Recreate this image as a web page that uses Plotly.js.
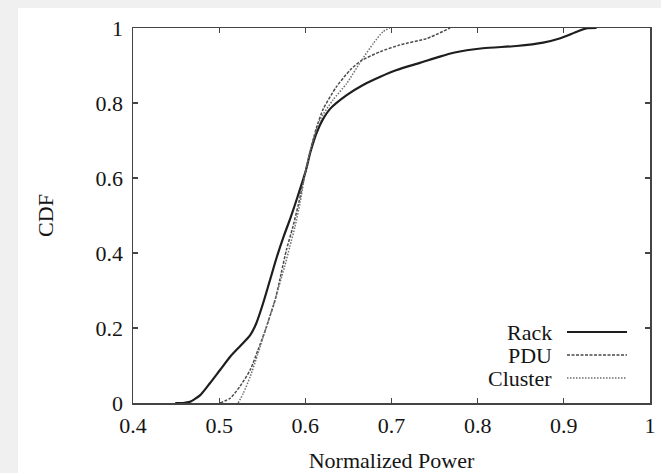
<!DOCTYPE html>
<html>
<head>
<meta charset="utf-8">
<script src="https://cdn.plot.ly/plotly-3.0.1.min.js"></script>
<style>
  html, body { margin: 0; padding: 0; background: #f0f0f0; width: 661px; height: 473px; overflow: hidden; }
  #chart { position: absolute; left: 18px; top: 8px; width: 643px; height: 465px; background: #ffffff; }
</style>
</head>
<body>
<div id="chart"></div>
<script>
// Rack CDF
const rackX = [0.449, 0.458, 0.466, 0.478, 0.489, 0.501, 0.513, 0.524, 0.536, 0.543, 0.551, 0.559, 0.567, 0.575, 0.583, 0.591, 0.600, 0.606, 0.613, 0.620, 0.629, 0.648, 0.667, 0.687, 0.706, 0.733, 0.755, 0.772, 0.806, 0.845, 0.876, 0.895, 0.915, 0.926, 0.938];
const rackY = [0.000, 0.000, 0.003, 0.021, 0.052, 0.088, 0.124, 0.151, 0.181, 0.212, 0.266, 0.328, 0.390, 0.445, 0.495, 0.550, 0.615, 0.670, 0.720, 0.755, 0.785, 0.821, 0.848, 0.870, 0.888, 0.907, 0.923, 0.934, 0.946, 0.952, 0.961, 0.972, 0.990, 0.999, 1.000];
// PDU CDF
const pduX = [0.501, 0.513, 0.524, 0.536, 0.545, 0.555, 0.565, 0.572, 0.578, 0.585, 0.592, 0.600, 0.606, 0.613, 0.621, 0.636, 0.652, 0.665, 0.687, 0.710, 0.741, 0.768];
const pduY = [0.000, 0.013, 0.044, 0.088, 0.141, 0.204, 0.275, 0.346, 0.408, 0.465, 0.530, 0.615, 0.675, 0.735, 0.785, 0.843, 0.888, 0.913, 0.937, 0.955, 0.972, 1.000];
// Cluster CDF
const clusterX = [0.522, 0.528, 0.536, 0.545, 0.555, 0.567, 0.576, 0.582, 0.588, 0.594, 0.600, 0.606, 0.617, 0.632, 0.648, 0.665, 0.679, 0.690, 0.698];
const clusterY = [0.000, 0.026, 0.070, 0.132, 0.204, 0.292, 0.364, 0.417, 0.470, 0.535, 0.615, 0.675, 0.755, 0.808, 0.852, 0.913, 0.959, 0.990, 1.000];

const seriesNames = ["Rack", "PDU", "Cluster"];
const xTicks = [0.4, 0.5, 0.6, 0.7, 0.8, 0.9, 1];
const yTicks = [0, 0.2, 0.4, 0.6, 0.8, 1];

const serif = "Liberation Serif, Times New Roman, serif";
const txtColor = "#151515";
const styles = [
  {color: "#1e1e1e", width: 2.2, dash: "solid"},
  {color: "#4a4a4a", width: 1.5, dash: "3px,1.5px"},
  {color: "#6e6e6e", width: 1.5, dash: "1.5px,1.5px"}
];
const xs = [rackX, pduX, clusterX];
const ys = [rackY, pduY, clusterY];

const traces = seriesNames.map((n, i) => ({
  x: xs[i], y: ys[i], name: n, type: "scatter", mode: "lines",
  line: {color: styles[i].color, width: styles[i].width, dash: styles[i].dash, shape: "spline", smoothing: 0.6},
  showlegend: false, hoverinfo: "skip"
}));

// legend drawn as text + sample lines, text to the left of the sample (gnuplot style)
const legPix = [332, 355, 378];
const annotations = seriesNames.map((n, i) => ({
  xref: "paper", yref: "paper", x: (554 - 133) / 517, y: (403 - legPix[i]) / 375,
  text: n, showarrow: false, xanchor: "right", yanchor: "middle",
  font: {family: serif, size: 22, color: txtColor}
}));
const shapes = seriesNames.map((n, i) => {
  const yy = (403 - legPix[i]) / 375;
  return {type: "line", xref: "paper", yref: "paper",
    x0: (567 - 133) / 517, x1: (627 - 133) / 517, y0: yy, y1: yy,
    line: {color: styles[i].color, width: styles[i].width, dash: styles[i].dash}};
});

const axisCommon = {
  showline: true, linecolor: "#444", linewidth: 1.5, mirror: "ticks",
  ticks: "inside", ticklen: 5, tickwidth: 1.2, tickcolor: "#444",
  showgrid: false, zeroline: false,
  tickfont: {family: serif, size: 22, color: txtColor}
};

const layout = {
  width: 643, height: 465,
  margin: {l: 115, r: 11, t: 20, b: 70},
  paper_bgcolor: "#ffffff", plot_bgcolor: "#ffffff",
  xaxis: Object.assign({}, axisCommon, {
    range: [0.4, 1], tickmode: "array", tickvals: xTicks, ticktext: xTicks.map(String),
    ticklabelstandoff: 2,
    title: {text: "Normalized Power", font: {family: serif, size: 22, color: txtColor}, standoff: 17}
  }),
  yaxis: Object.assign({}, axisCommon, {
    range: [0, 1], tickmode: "array", tickvals: yTicks, ticktext: yTicks.map(String),
    ticklabelstandoff: 4,
    title: {text: "CDF", font: {family: serif, size: 22, color: txtColor}, standoff: 36}
  }),
  annotations: annotations,
  shapes: shapes
};

Plotly.newPlot("chart", traces, layout, {staticPlot: true, displayModeBar: false});
</script>
</body>
</html>
